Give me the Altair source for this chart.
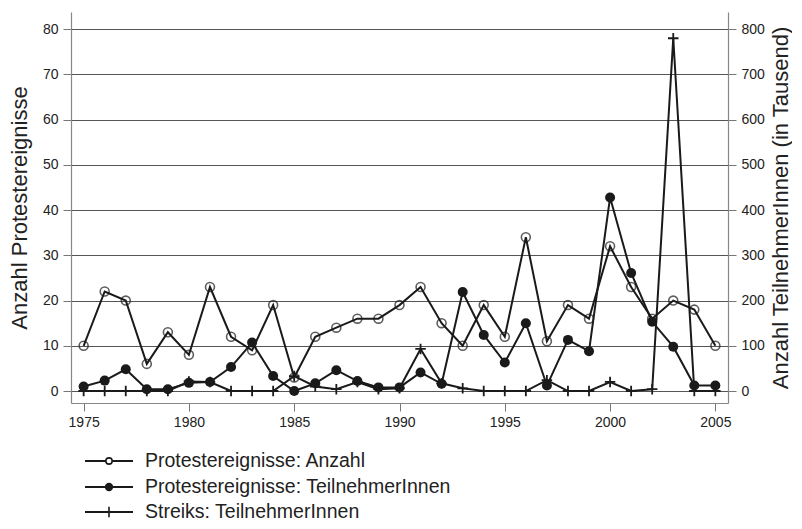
import altair as alt
import pandas as pd

years = list(range(1975, 2006))
anzahl = [10, 22, 20, 6, 13, 8, 23, 12, 9, 19,
          3, 12, 14, 16, 16, 19, 23, 15, 10, 19,
          12, 34, 11, 19, 16, 32, 23, 16, 20, 18, 10]
teilnehmer = [10, 23, 48, 4, 4, 18, 20, 53, 107, 33,
              0, 17, 46, 22, 8, 8, 41, 16, 219, 124,
              63, 150, 12, 113, 88, 428, 261, 153, 98, 12, 12]
streiks = [0, 0, 0, 0, 0, 21, 20, 0, 0, 0,
           33, 10, 4, 20, 4, 6, 93, 17, 6, 0,
           0, 0, 24, 0, 0, 20, 0, 4, 780, 0, 0]
series_names = ["Protestereignisse: Anzahl",
                "Protestereignisse: TeilnehmerInnen",
                "Streiks: TeilnehmerInnen"]
x_ticks = [1975, 1980, 1985, 1990, 1995, 2000, 2005]
left_ticks = list(range(0, 81, 10))
right_ticks = list(range(0, 801, 100))

df = pd.DataFrame({"year": years, "anzahl": anzahl,
                   "teilnehmer": teilnehmer, "streiks": streiks})

FONT = "Liberation Sans"
INK = "#1a1a1a"
PLUS = "M-1,0L1,0M0,-1L0,1"

base = alt.Chart(df)
x_enc = alt.X("year:Q",
              scale=alt.Scale(domain=[1974.4, 2005.6], nice=False, zero=False),
              axis=alt.Axis(values=x_ticks, format="d", title=None, grid=False,
                            tickSize=8, labelPadding=4, labelFontSize=14))

left_axis = alt.Axis(values=left_ticks, title="Anzahl Protestereignisse",
                     orient="left", grid=True, tickSize=8, labelPadding=5,
                     labelFontSize=14, titleFontSize=22, titlePadding=11)
left_scale = alt.Scale(domain=[-2.65, 83.8], nice=False, zero=False)

right_axis = alt.Axis(values=right_ticks,
                      title="Anzahl TeilnehmerInnen (in Tausend)",
                      orient="right", grid=False, tickSize=8, labelPadding=5,
                      labelFontSize=14, titleFontSize=22, titlePadding=6,
                      titleAngle=270, titleBaseline="top")
right_scale = alt.Scale(domain=[-26.5, 838], nice=False, zero=False)

line_a = base.mark_line(color=INK, strokeWidth=2).encode(
    x=x_enc, y=alt.Y("anzahl:Q", scale=left_scale, axis=left_axis))
pts_a = base.mark_point(shape="circle", filled=False, color=INK, size=80,
                        strokeWidth=1.6).encode(
    x=x_enc, y=alt.Y("anzahl:Q", scale=left_scale, axis=left_axis))
left = alt.layer(line_a, pts_a)

line_t = base.mark_line(color=INK, strokeWidth=2).encode(
    x=x_enc, y=alt.Y("teilnehmer:Q", scale=right_scale, axis=right_axis))
pts_t = base.mark_point(shape="circle", filled=True, color=INK, size=100,
                        opacity=1).encode(
    x=x_enc, y=alt.Y("teilnehmer:Q", scale=right_scale, axis=right_axis))
line_s = base.mark_line(color=INK, strokeWidth=2).encode(
    x=x_enc, y=alt.Y("streiks:Q", scale=right_scale, axis=right_axis))
pts_s = base.mark_point(shape=PLUS, filled=False, color=INK, size=110,
                        strokeWidth=1.8, opacity=1).encode(
    x=x_enc, y=alt.Y("streiks:Q", scale=right_scale, axis=right_axis))
right = alt.layer(line_t, line_s, pts_t, pts_s)

# legend below the plot
legend_layers = []
row_y = [449, 475, 500]
shapes = [("circle", False, 40), ("circle", True, 70), (PLUS, False, 110)]
for name, yy, (shp, fil, sz) in zip(series_names, row_y, shapes):
    ldf = pd.DataFrame({"label": [name]})
    lb = alt.Chart(ldf)
    legend_layers.append(lb.mark_rule(color=INK, strokeWidth=2).encode(
        x=alt.value(14), x2=alt.value(62), y=alt.value(yy)))
    legend_layers.append(lb.mark_point(shape=shp, filled=fil, color=INK,
                                       size=sz, strokeWidth=1.6, opacity=1,
                                       fill="white" if not fil else INK).encode(
        x=alt.value(38), y=alt.value(yy)))
    legend_layers.append(lb.mark_text(align="left", baseline="middle",
                                      fontSize=19.5, font=FONT, color="#222").encode(
        x=alt.value(74), y=alt.value(yy), text="label:N"))

chart = alt.layer(left, right, *legend_layers).resolve_scale(
    y="independent"
).properties(
    width=657, height=391,
    padding={"left": 0, "top": 4, "right": 0, "bottom": 0},
    background="white"
).configure_view(stroke=None).configure_axis(
    domainColor="#888888", tickColor="#777777", labelColor="#222222",
    titleColor="#222222", labelFont=FONT, titleFont=FONT,
    titleFontWeight="normal", gridColor="#555555", gridWidth=1,
    domainWidth=1.2
)

chart.save("out.html", embed_options={"renderer": "svg", "actions": False})
